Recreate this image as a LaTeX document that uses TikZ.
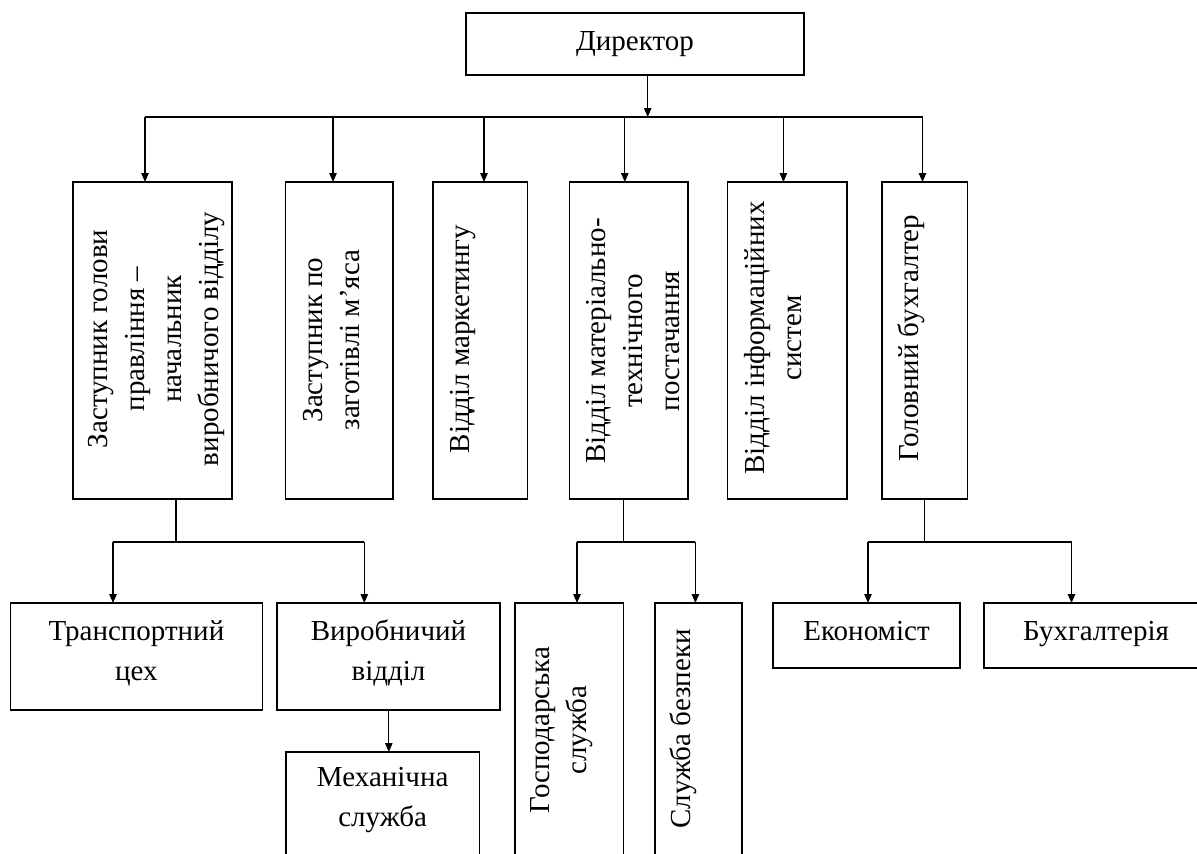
\documentclass[tikz,border=0pt]{standalone}
\usepackage{fontspec}
\setmainfont{Liberation Serif}
\usetikzlibrary{arrows.meta}
\tikzset{
  box/.style={draw=black, line width=1.2pt, inner sep=0pt, outer sep=0pt, fill=none},
  conn/.style={draw=black, line width=1.1pt},
  arr/.style={conn, -{Triangle[length=9pt,width=7.5pt]}},
  htxt/.style={inner sep=0pt, align=center, font=\fontsize{29}{40}\selectfont},
  vtxt/.style={inner sep=0pt, align=center, rotate=90, font=\fontsize{29}{37}\selectfont},
}
\begin{document}
\begin{tikzpicture}[x=1pt,y=-1pt]
\useasboundingbox (0,0) rectangle (1197,854);
\clip (0,0) rectangle (1197,854);
% boxes
\node[box, minimum width=338pt, minimum height=62pt] (dir) at (635,44) {};
\node[box, minimum width=159pt, minimum height=317pt] (b1) at (152.5,340.5) {};
\node[box, minimum width=107.5pt, minimum height=317pt] (b2) at (339.25,340.5) {};
\node[box, minimum width=94.5pt, minimum height=317pt] (b3) at (480.25,340.5) {};
\node[box, minimum width=118.5pt, minimum height=317pt] (b4) at (628.75,340.5) {};
\node[box, minimum width=119.5pt, minimum height=317pt] (b5) at (787.25,340.5) {};
\node[box, minimum width=85.5pt, minimum height=317pt] (b6) at (924.75,340.5) {};
\node[box, minimum width=252.2pt, minimum height=107pt] (tr) at (136.4,656.5) {};
\node[box, minimum width=223pt, minimum height=107pt] (vy) at (388.5,656.5) {};
\node[box, minimum width=193.5pt, minimum height=148pt] (me) at (382.75,826) {};
\node[box, minimum width=108.5pt, minimum height=297pt] (ho) at (569.25,751.5) {};
\node[box, minimum width=87pt, minimum height=297pt] (sb) at (698.5,751.5) {};
\node[box, minimum width=187pt, minimum height=65pt] (ec) at (866.5,635.5) {};
\node[box, minimum width=224pt, minimum height=65pt] (bk) at (1096,635.5) {};
% texts
\node[htxt, anchor=base] (tdir) at (635,50) {Директор};
\node[vtxt] (t1) at (156.7,339) {Заступник голови\\правління –\\начальник\\виробничого відділу};
\node[vtxt] (t2) at (332,340) {Заступник по\\заготівлі м’яса};
\node[vtxt] (t3) at (463,339) {Відділ маркетингу};
\node[vtxt] (t4) at (633.4,341) {Відділ матеріально-\\технічного\\постачання};
\node[vtxt] (t5) at (773,338) {Відділ інформаційних\\систем};
\node[vtxt] (t6) at (910.8,338.3) {Головний бухгалтер};
\node[htxt] (ttr) at (136.4,653.2) {Транспортний\\цех};
\node[htxt] (tvy) at (388.5,653.2) {Виробничий\\відділ};
\node[htxt] (tme) at (382.7,800) {Механічна\\служба};
\node[vtxt] (tho) at (561.6,730) {Господарська\\служба};
\node[vtxt] (tsb) at (683,729) {Служба безпеки};
\node[htxt, anchor=base] (tec) at (866.5,640) {Економіст};
\node[htxt, anchor=base] (tbk) at (1096,640) {Бухгалтерія};
% top bus
\coordinate (j0) at (647.7,117);
\coordinate (j1) at (145,117);
\coordinate (j2) at (333,117);
\coordinate (j3) at (484,117);
\coordinate (j4) at (624.8,117);
\coordinate (j5) at (783.4,117);
\coordinate (j6) at (922.5,117);
\draw[arr] (j0 |- dir.south) -- (j0);
\draw[conn] (j1) -- (j6);
\foreach \i in {1,...,6} {\draw[arr] (j\i) -- (j\i |- b\i.north);}
% lower bus 1
\coordinate (k1) at (176,542);
\coordinate (k1a) at (113,542);
\coordinate (k1b) at (364.3,542);
\draw[conn] (k1 |- b1.south) -- (k1);
\draw[conn] (k1a) -- (k1b);
\draw[arr] (k1a) -- (k1a |- tr.north);
\draw[arr] (k1b) -- (k1b |- vy.north);
\coordinate (km) at (388.8,752);
\draw[arr] (km |- vy.south) -- (km |- me.north);
% lower bus 2
\coordinate (k4) at (623.3,542);
\coordinate (k4a) at (577,542);
\coordinate (k4b) at (695.4,542);
\draw[conn] (k4 |- b4.south) -- (k4);
\draw[conn] (k4a) -- (k4b);
\draw[arr] (k4a) -- (k4a |- ho.north);
\draw[arr] (k4b) -- (k4b |- sb.north);
% lower bus 3
\coordinate (k6) at (924.2,542);
\coordinate (k6a) at (868,542);
\coordinate (k6b) at (1071.5,542);
\draw[conn] (k6 |- b6.south) -- (k6);
\draw[conn] (k6a) -- (k6b);
\draw[arr] (k6a) -- (k6a |- ec.north);
\draw[arr] (k6b) -- (k6b |- bk.north);
\end{tikzpicture}
\end{document}
